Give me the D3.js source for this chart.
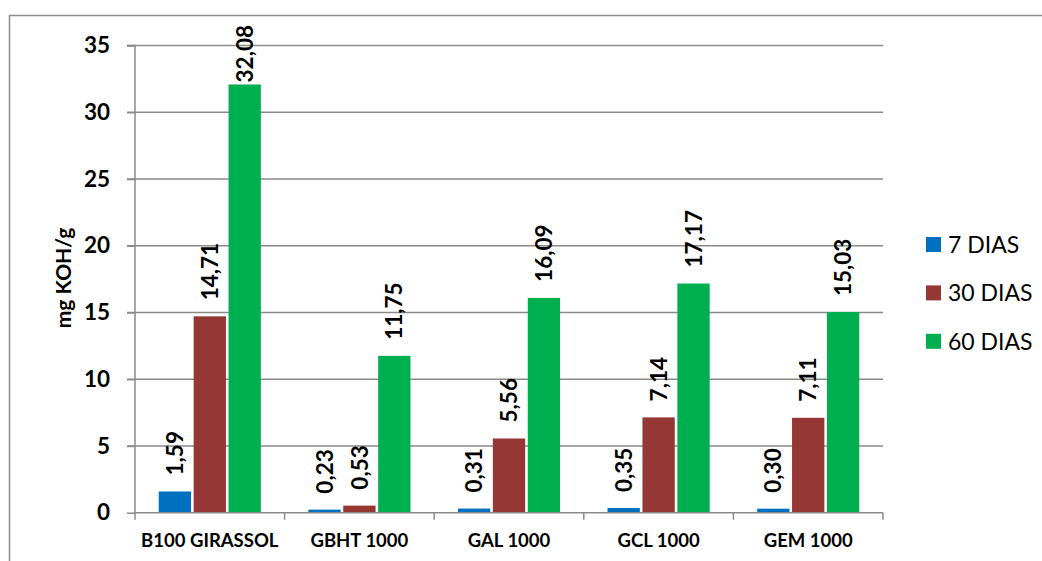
<!DOCTYPE html>
<html>
<head>
<meta charset="utf-8">
<script src="https://cdn.jsdelivr.net/npm/d3@7"></script>
<style>
  html, body { margin: 0; padding: 0; background: #fff; }
  svg { display: block; }
  text { font-family: Lato, "Open Sans", sans-serif; fill: #000; }
</style>
</head>
<body>
<div id="chart"></div>
<script>
const categories = ["B100 GIRASSOL", "GBHT 1000", "GAL 1000", "GCL 1000", "GEM 1000"];
const seriesNames = ["7 DIAS", "30 DIAS", "60 DIAS"];
const values7 = [1.59, 0.23, 0.31, 0.35, 0.30];
const values30 = [14.71, 0.53, 5.56, 7.14, 7.11];
const values60 = [32.08, 11.75, 16.09, 17.17, 15.03];
const yTickValues = [0, 5, 10, 15, 20, 25, 30, 35];
const colors = ["#0070C0", "#953735", "#00B050"];
const yTitle = "mg KOH/g";

const W = 1042, H = 561;
const seriesValues = [values7, values30, values60];

const svg = d3.select("#chart").append("svg").attr("width", W).attr("height", H);

// outer chart border (extends beyond right/bottom edges)
svg.append("rect")
  .attr("x", 9.5).attr("y", 15.5)
  .attr("width", 1100).attr("height", 700)
  .attr("fill", "none").attr("stroke", "#8c8c8c").attr("stroke-width", 1.5);

const plotL = 135, plotR = 883, plotT = 45.5, plotB = 512.7;

const x0 = d3.scaleBand().domain(categories).range([plotL, plotR]).padding(0);
const x1 = d3.scaleBand().domain(seriesNames).range([0, x0.bandwidth()])
  .paddingInner(0.0745).paddingOuter(0.68);
const y = d3.scaleLinear().domain([0, 35]).range([plotB, plotT]);

const gridColor = "#8a8a8a";

// gridlines
svg.append("g").selectAll("line").data(yTickValues.filter(v => v > 0)).join("line")
  .attr("x1", plotL - 8).attr("x2", plotR)
  .attr("y1", d => y(d)).attr("y2", d => y(d))
  .attr("stroke", gridColor).attr("stroke-width", 1.5);

// y axis
const yAxis = d3.axisLeft(y).tickValues(yTickValues).tickSize(8).tickPadding(17).tickFormat(d3.format("d"));
const gy = svg.append("g").attr("transform", `translate(${plotL},0)`).call(yAxis);
gy.select(".domain").attr("stroke", gridColor).attr("stroke-width", 1.5).attr("d", `M-8,${plotT}H0V${plotB}`);
gy.selectAll(".tick line").attr("stroke", gridColor).attr("stroke-width", 1.5);
gy.selectAll(".tick text").attr("font-family", "Lato, sans-serif").attr("font-weight", "bold")
  .attr("font-size", 22.5).attr("fill", "#000");

// bars
const groups = svg.append("g").selectAll("g").data(categories).join("g")
  .attr("transform", d => `translate(${x0(d)},0)`);

groups.selectAll("rect")
  .data((c, i) => seriesNames.map((s, j) => ({ s, j, v: seriesValues[j][i] })))
  .join("rect")
  .attr("x", d => x1(d.s))
  .attr("width", x1.bandwidth())
  .attr("y", d => y(d.v))
  .attr("height", d => y(0) - y(d.v))
  .attr("fill", d => colors[d.j]);

// x axis (drawn over bars)
const xAxis = d3.axisBottom(x0).tickSize(0).tickPadding(0);
const gx = svg.append("g").attr("transform", `translate(0,${plotB})`);
gx.append("line").attr("x1", plotL).attr("x2", plotR).attr("y1", 0).attr("y2", 0)
  .attr("stroke", gridColor).attr("stroke-width", 1.5);
const boundaries = categories.map(c => x0(c)).concat([plotR]);
gx.selectAll("line.bt").data(boundaries).join("line").attr("class", "bt")
  .attr("x1", d => d).attr("x2", d => d).attr("y1", 0).attr("y2", 7)
  .attr("stroke", gridColor).attr("stroke-width", 1.5);
gx.selectAll("text").data(categories).join("text")
  .attr("x", d => x0(d) + x0.bandwidth() / 2)
  .attr("y", 34)
  .attr("text-anchor", "middle")
  .attr("font-weight", "bold")
  .attr("font-size", 18.5)
  .text(d => d);

// data labels
const locale = d3.formatLocale({ decimal: ",", thousands: ".", grouping: [3], currency: ["", ""] });
const fmt = locale.format(".2f");

groups.each(function(c, i) {
  const g = d3.select(this);
  seriesNames.forEach((s, j) => {
    const v = seriesValues[j][i];
    const cx = x1(s) + x1.bandwidth() / 2;
    const t = g.append("text")
      .attr("font-weight", "bold")
      .attr("font-size", 22.5)
      .attr("dy", "0.36em")
      .attr("text-anchor", "start")
      .text(fmt(v));
    const len = t.node().getComputedTextLength();
    let start = y(v) - 16;
    if (start - len < 25) start = 25 + len;
    t.attr("transform", `translate(${cx},${start}) rotate(-90)`);
  });
});

// y title
svg.append("text")
  .attr("transform", `translate(64,278) rotate(-90)`)
  .attr("text-anchor", "middle")
  .attr("dy", "0.35em")
  .attr("font-weight", "bold")
  .attr("font-size", 21)
  .text(yTitle);

// legend
const legend = svg.append("g").selectAll("g").data(seriesNames).join("g")
  .attr("transform", (d, i) => `translate(926,${244.5 + i * 48.4})`);
legend.append("rect").attr("x", 0).attr("y", -7.5).attr("width", 15).attr("height", 15)
  .attr("fill", (d, i) => colors[i]);
legend.append("text").attr("x", 22).attr("y", 0).attr("dy", "0.36em")
  .attr("font-size", 23).text(d => d);
</script>
</body>
</html>
